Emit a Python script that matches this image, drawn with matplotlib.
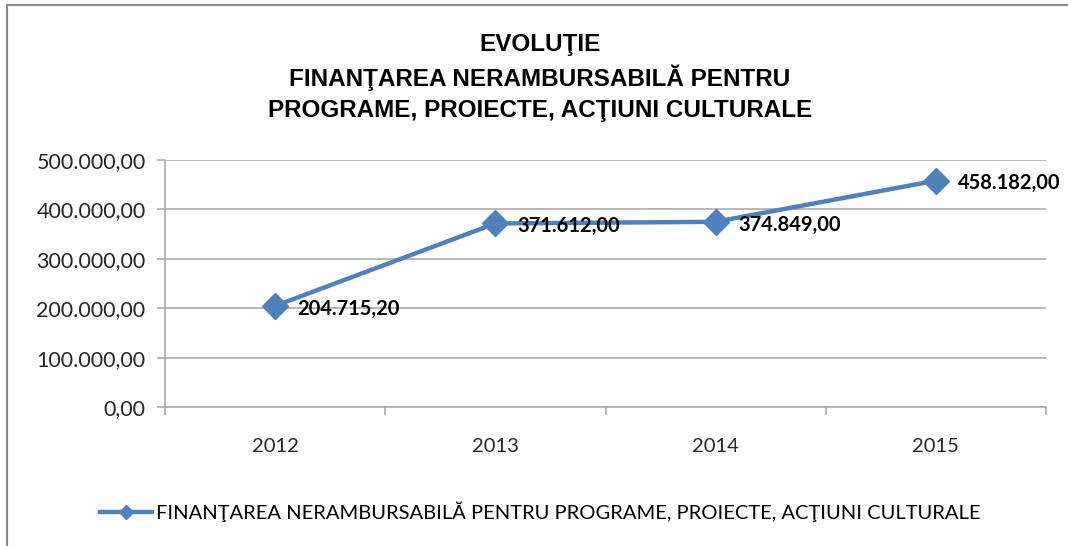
import matplotlib
matplotlib.use("Agg")
import matplotlib.pyplot as plt
from matplotlib.lines import Line2D
from matplotlib.ticker import FuncFormatter

years = ["2012", "2013", "2014", "2015"]
values = [204715.20, 371612.00, 374849.00, 458182.00]
series_name = "FINANŢAREA NERAMBURSABILĂ PENTRU PROGRAME, PROIECTE, ACŢIUNI CULTURALE"
title_lines = ["EVOLUŢIE", "FINANŢAREA NERAMBURSABILĂ PENTRU", "PROGRAME, PROIECTE, ACŢIUNI CULTURALE"]
y_ticks = [0, 100000, 200000, 300000, 400000, 500000]

BLUE = "#4F81BD"
GRID = "#A6A6A6"
W, H = 1068, 546


def ro_fmt(v, decimals=2):
    s = f"{v:,.{decimals}f}"
    return s.replace(",", "X").replace(".", ",").replace("X", ".")


fig = plt.figure(figsize=(W / 100, H / 100), dpi=100)
fig.patch.set_facecolor("white")

# plot area in pixel coordinates
left, right, top, bottom = 165, 1046, 160, 407
ax = fig.add_axes([left / W, 1 - bottom / H, (right - left) / W, (bottom - top) / H])

x = list(range(len(years)))
ax.plot(x, values, color=BLUE, linewidth=3.2, marker="D", markersize=13,
        markerfacecolor=BLUE, markeredgecolor=BLUE, solid_capstyle="round", zorder=3)

for xi, v in zip(x, values):
    ax.annotate(ro_fmt(v), (xi, v), xytext=(16, -2), textcoords="offset points",
                ha="left", va="center", fontsize=14.5, fontweight="bold",
                family=["Lato", "DejaVu Sans"], color="#000000", zorder=4,
                annotation_clip=False)

ax.set_xlim(-0.5, len(years) - 0.5)
ax.set_ylim(0, 500000)
ax.set_yticks(y_ticks)
ax.yaxis.set_major_formatter(FuncFormatter(lambda v, p: ro_fmt(v)))
ax.set_xticks(x)
ax.set_xticklabels(years)
ax.set_xticks([i - 0.5 for i in range(len(years) + 1)], minor=True)

ax.grid(axis="y", color=GRID, linewidth=1.1, zorder=0)
for side in ["top", "right"]:
    ax.spines[side].set_visible(False)
for side in ["left", "bottom"]:
    ax.spines[side].set_color(GRID)
    ax.spines[side].set_linewidth(1.1)

ax.tick_params(axis="y", length=6, width=1.1, color=GRID, pad=8,
               labelsize=15.5, labelcolor="#262626")
ax.tick_params(axis="x", which="major", length=0, pad=22,
               labelsize=14.5, labelcolor="#262626")
ax.tick_params(axis="x", which="minor", length=6, width=1.1, color=GRID)
for lab in ax.get_yticklabels() + ax.get_xticklabels():
    lab.set_family(["Lato", "DejaVu Sans"])

# title
title_font = ["Liberation Sans Narrow", "Liberation Sans", "DejaVu Sans"]
for i, line in enumerate(title_lines):
    fig.text(540 / W, 1 - (45 + 33 * i) / H, line, ha="center", va="center",
             fontsize=17.5, fontweight="bold", family=title_font, color="#000000")

# legend
handle = Line2D([], [], color=BLUE, linewidth=3.2, marker="D", markersize=7,
                markerfacecolor=BLUE, markeredgecolor=BLUE)
fig.legend([handle], [series_name], loc="center", bbox_to_anchor=(540 / W, 1 - 512 / H),
           frameon=False, handlelength=2.6, handletextpad=0.2,
           prop={"family": ["Lato", "DejaVu Sans"], "size": 14.5})

# chart border (left and top edges)
fig.add_artist(Line2D([7 / W, 7 / W], [0, 1 - 5 / H], transform=fig.transFigure,
                      color="#888888", linewidth=1.5))
fig.add_artist(Line2D([7 / W, 1], [1 - 5 / H, 1 - 5 / H], transform=fig.transFigure,
                      color="#888888", linewidth=1.5))

fig.savefig("out.png", dpi=100, facecolor="white")
